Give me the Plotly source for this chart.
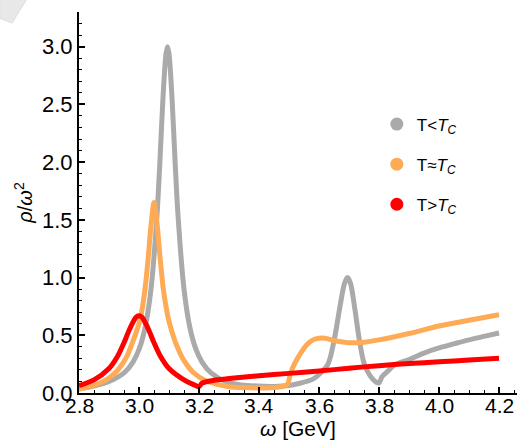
import plotly.graph_objects as go

# ---- data ----
omega_low = [2.80, 2.85, 2.90, 2.95, 2.98, 3.00, 3.02, 3.04, 3.06, 3.07, 3.08, 3.09, 3.095,
             3.10, 3.11, 3.12, 3.13, 3.15, 3.17, 3.19, 3.21, 3.24, 3.29, 3.34, 3.40, 3.45,
             3.50, 3.54, 3.58, 3.60, 3.63, 3.65, 3.67, 3.685, 3.695, 3.705, 3.72, 3.735,
             3.75, 3.77, 3.79, 3.80, 3.81, 3.83, 3.85, 3.90, 3.95, 4.00, 4.06, 4.10, 4.15, 4.20]
rho_low = [0.035, 0.06, 0.099, 0.174, 0.268, 0.377, 0.562, 0.90, 1.54, 2.02, 2.56, 2.94, 3.00,
           2.94, 2.56, 2.02, 1.54, 0.90, 0.562, 0.377, 0.268, 0.174, 0.099, 0.07, 0.06, 0.057,
           0.065, 0.087, 0.12, 0.16, 0.25, 0.45, 0.75, 0.95, 1.00, 0.95, 0.72, 0.45,
           0.26, 0.15, 0.095, 0.088, 0.14, 0.19, 0.24, 0.29, 0.346, 0.39, 0.433, 0.46, 0.49, 0.52]

omega_mid = [2.80, 2.85, 2.90, 2.93, 2.96, 2.98, 3.00, 3.01, 3.02, 3.03, 3.04, 3.05, 3.06,
             3.07, 3.08, 3.09, 3.10, 3.12, 3.15, 3.18, 3.22, 3.26, 3.30, 3.35, 3.40, 3.45,
             3.49, 3.497, 3.505, 3.52, 3.54, 3.56, 3.58, 3.60, 3.62, 3.65, 3.70, 3.75, 3.80,
             3.90, 4.00, 4.10, 4.20]
rho_mid = [0.035, 0.065, 0.13, 0.20, 0.32, 0.45, 0.60, 0.72, 0.90, 1.15, 1.45, 1.65, 1.47,
           1.18, 0.92, 0.75, 0.62, 0.45, 0.28, 0.18, 0.11, 0.075, 0.055, 0.047, 0.044, 0.048,
           0.065, 0.085, 0.17, 0.26, 0.35, 0.42, 0.46, 0.475, 0.474, 0.455, 0.435, 0.44, 0.46,
           0.515, 0.58, 0.63, 0.678]

omega_high = [2.80, 2.85, 2.90, 2.93, 2.95, 2.97, 2.99, 3.00, 3.01, 3.03, 3.05, 3.07, 3.10,
              3.15, 3.18, 3.20, 3.21, 3.25, 3.30, 3.40, 3.50, 3.60, 3.70, 3.80, 3.90, 4.00,
              4.10, 4.20]
rho_high = [0.065, 0.114, 0.212, 0.325, 0.435, 0.561, 0.656, 0.67, 0.656, 0.561, 0.435, 0.325, 0.212,
            0.114, 0.075, 0.055, 0.085, 0.11, 0.125, 0.15, 0.17, 0.19, 0.215, 0.237, 0.255, 0.27,
            0.285, 0.30]

series_names = ["T&lt;<i>T</i><sub><i>C</i></sub>",
                "T≈<i>T</i><sub><i>C</i></sub>",
                "T&gt;<i>T</i><sub><i>C</i></sub>"]
series_colors = ["#aaaaaa", "#ffaa55", "#ff0000"]

x_ticks = [2.8, 3.0, 3.2, 3.4, 3.6, 3.8, 4.0, 4.2]
x_tick_labels = ["2.8", "3.0", "3.2", "3.4", "3.6", "3.8", "4.0", "4.2"]
y_ticks = [0.0, 0.5, 1.0, 1.5, 2.0, 2.5, 3.0]
y_tick_labels = ["0.0", "0.5", "1.0", "1.5", "2.0", "2.5", "3.0"]
x_title = "<i>ω</i> [GeV]"
y_title = "<i>ρ</i>/<i>ω</i><sup>2</sup>"

fig = go.Figure()
for xs, ys, col in zip([omega_low, omega_mid, omega_high], [rho_low, rho_mid, rho_high], series_colors):
    fig.add_trace(go.Scatter(x=xs, y=ys, mode="lines",
                             line=dict(color=col, width=5, shape="spline", smoothing=0.8),
                             showlegend=False, hoverinfo="skip"))
for i, (name, col) in enumerate(zip(series_names, series_colors)):
    fig.add_trace(go.Scatter(x=[None], y=[None], mode="markers", name=name,
                             legendgroup=f"g{i}",
                             marker=dict(color=col, size=13, symbol="circle")))

font_family = "Liberation Sans"

# x tick labels placed right under the axis (as in the reference)
annotations = [dict(text=lab, xref="x", yref="paper", x=v, y=-0.034,
                    xanchor="center", yanchor="middle", showarrow=False,
                    font=dict(size=21, family=font_family))
               for v, lab in zip(x_ticks, x_tick_labels)]
annotations.append(dict(text=x_title, xref="paper", yref="paper", x=0.5, y=-0.092,
                        xanchor="center", yanchor="middle", showarrow=False,
                        font=dict(size=21, family=font_family)))

fig.update_layout(
    width=519, height=447,
    margin=dict(l=79, r=2, t=12, b=54),
    paper_bgcolor="white", plot_bgcolor="white",
    font=dict(family=font_family, color="black"),
    showlegend=True,
    legend=dict(x=0.68, y=0.752, xanchor="left", yanchor="top",
                font=dict(size=17, family=font_family),
                traceorder="grouped", tracegroupgap=15,
                bgcolor="rgba(0,0,0,0)", itemwidth=30),
    xaxis=dict(range=[2.8, 4.26], tickmode="array", tickvals=x_ticks,
               showticklabels=False,
               showline=True, linecolor="black", linewidth=2,
               ticks="inside", ticklen=6, tickwidth=1.5, tickcolor="black",
               minor=dict(dtick=0.05, tick0=2.8, ticks="inside", ticklen=3, tickwidth=1, tickcolor="black"),
               showgrid=False, zeroline=False),
    yaxis=dict(range=[0, 3.3], tickmode="array", tickvals=y_ticks,
               ticktext=y_tick_labels,
               showline=True, linecolor="black", linewidth=2,
               ticks="inside", ticklen=6, tickwidth=1.5, tickcolor="black",
               minor=dict(dtick=0.1, tick0=0, ticks="inside", ticklen=3, tickwidth=1, tickcolor="black"),
               showgrid=False, zeroline=False,
               tickfont=dict(size=22, family=font_family),
               title=dict(text=y_title, font=dict(size=20, family=font_family), standoff=4)),
    annotations=annotations,
)

# page-corner artifact in the top-left of the reference
fig.add_shape(type="path", xref="paper", yref="paper",
              path="M -0.181 1.04 L -0.116 1.04 L -0.153 0.971 L -0.181 0.984 Z",
              fillcolor="#e8e8e8", line=dict(color="#dcdcdc", width=1), layer="above")

fig.write_html("out.html")
